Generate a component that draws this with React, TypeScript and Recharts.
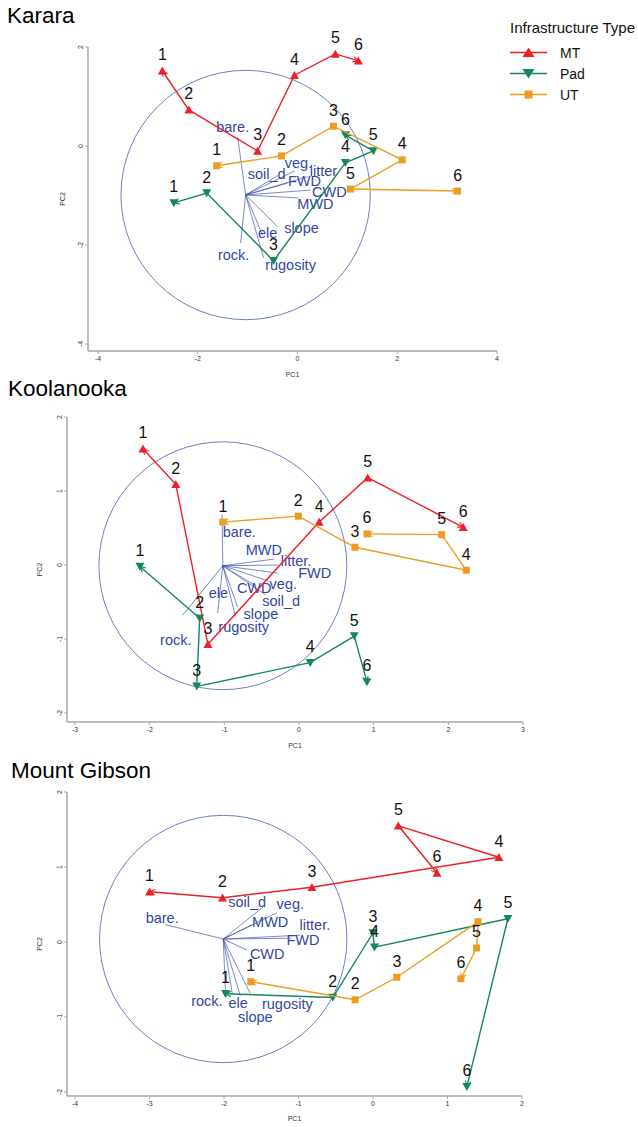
import React from 'react';
import { ScatterChart, Scatter, XAxis, YAxis, ReferenceLine, ReferenceDot, LabelList } from 'recharts';

const FONT = '"Liberation Sans", Arial, Helvetica, sans-serif';
const SERIES_COLORS: Record<string, string> = { MT: '#ee1f26', Pad: '#15865e', UT: '#ee9b1f' };
const SERIES_SHAPES: Record<string, string> = { MT: 'up', Pad: 'down', UT: 'square' };
const VECTOR_COLOR = '#3447a3';
const CIRCLE_COLOR = '#6b7fc6';
const AXIS_COLOR = '#a8a8a8';

const sampleLabels = ['1', '2', '3', '4', '5', '6'];
const seriesNames = ['MT', 'Pad', 'UT'];

// ---------- Karara ----------
const kararaMTx = [-2.71, -2.18, -0.8, -0.06, 0.76, 1.22];
const kararaMTy = [1.52, 0.73, -0.1, 1.43, 1.86, 1.72];
const kararaPadX = [-2.48, -1.82, -0.48, 0.96, 1.52, 0.96];
const kararaPadY = [-1.15, -0.95, -2.32, -0.34, -0.1, 0.22];
const kararaUTx = [-1.62, -0.32, 0.72, 2.1, 1.06, 3.21];
const kararaUTy = [-0.4, -0.2, 0.4, -0.28, -0.87, -0.91];
const kararaVarNames = ['bare.', 'soil_d', 'veg.', 'litter', 'FWD', 'CWD', 'MWD', 'slope', 'ele', 'rock.', 'rugosity'];
const kararaVecX = [-1.2, -0.4, -0.05, 0.2, -0.2, 0.26, 0.02, -0.4, -0.7, -1.14, -0.68];
const kararaVecY = [0.18, -0.6, -0.5, -0.62, -0.75, -0.89, -1.05, -1.63, -1.8, -1.96, -2.26];
const kararaLabX = [-1.3, -0.62, 0.02, 0.52, 0.14, 0.64, 0.36, 0.08, -0.6, -1.28, -0.14];
const kararaLabY = [0.38, -0.57, -0.34, -0.5, -0.7, -0.92, -1.17, -1.66, -1.76, -2.2, -2.4];
const kararaCentre = [-1.04, -0.99];
const kararaRadius = 2.5;
const kararaXTicks = [-4, -2, 0, 2, 4];
const kararaYTicks = [-4, -2, 0, 2];

// ---------- Koolanooka ----------
const koolMTx = [-2.09, -1.65, -1.22, 0.27, 0.92, 2.2];
const koolMTy = [1.57, 1.09, -1.07, 0.58, 1.18, 0.51];
const koolPadX = [-2.13, -1.33, -1.37, 0.15, 0.74, 0.91];
const koolPadY = [-0.02, -0.72, -1.64, -1.32, -0.96, -1.58];
const koolUTx = [-1.02, -0.01, 0.75, 2.24, 1.91, 0.91];
const koolUTy = [0.58, 0.66, 0.24, -0.07, 0.41, 0.42];
const koolVarNames = ['bare.', 'MWD', 'litter.', 'FWD', 'veg.', 'CWD', 'ele', 'soil_d', 'slope', 'rugosity', 'rock.'];
const koolVecX = [-1.03, -0.33, -0.27, -0.28, -0.4, -0.6, -1.09, -0.45, -0.82, -0.85, -1.56];
const koolVecY = [0.68, 0.08, 0.0, -0.11, -0.22, -0.27, -0.65, -0.4, -0.57, -0.7, -0.68];
const koolLabX = [-0.8, -0.47, -0.04, 0.21, -0.21, -0.6, -1.08, -0.24, -0.51, -0.74, -1.65];
const koolLabY = [0.45, 0.2, 0.05, -0.11, -0.26, -0.31, -0.38, -0.49, -0.66, -0.84, -1.01];
const koolCentre = [-1.02, -0.01];
const koolRadius = 1.66;
const koolXTicks = [-3, -2, -1, 0, 1, 2, 3];
const koolYTicks = [-2, -1, 0, 1, 2];

// ---------- Mount Gibson ----------
const mgMTx = [-3.0, -2.02, -0.82, 1.69, 0.34, 0.86];
const mgMTy = [0.67, 0.59, 0.73, 1.13, 1.55, 0.92];
const mgPadX = [-1.98, -0.54, 0.0, 0.02, 1.81, 1.26];
const mgPadY = [-0.69, -0.74, 0.12, -0.07, 0.31, -1.93];
const mgUTx = [-1.64, -0.24, 0.32, 1.41, 1.39, 1.18];
const mgUTy = [-0.53, -0.77, -0.47, 0.27, -0.08, -0.49];
const mgVarNames = ['soil_d', 'veg.', 'bare.', 'MWD', 'litter.', 'FWD', 'CWD', 'rock.', 'ele', 'rugosity', 'slope'];
const mgVecX = [-1.47, -1.29, -2.78, -1.62, -0.98, -1.1, -1.69, -1.98, -1.89, -1.65, -1.78];
const mgVecY = [0.47, 0.39, 0.23, 0.23, 0.09, 0.05, -0.11, -0.67, -0.68, -0.68, -0.72];
const mgLabX = [-1.69, -1.11, -2.83, -1.38, -0.78, -0.94, -1.42, -2.23, -1.81, -1.15, -1.58];
const mgLabY = [0.53, 0.51, 0.32, 0.27, 0.23, 0.03, -0.16, -0.79, -0.81, -0.83, -1.0];
const mgCentre = [-2.01, 0.04];
const mgRadius = 1.66;
const mgXTicks = [-4, -3, -2, -1, 0, 1, 2];
const mgYTicks = [-2, -1, 0, 1, 2];

const toPoints = (xs: number[], ys: number[]) => xs.map((x, i) => ({ x, y: ys[i], label: sampleLabels[i] }));
const toVectors = (names: string[], vx: number[], vy: number[], lx: number[], ly: number[]) =>
  names.map((name, i) => ({ name, ex: vx[i], ey: vy[i], x: lx[i], y: ly[i] }));

const panels = [
  {
    title: 'Karara', top: 0, width: 638, height: 385,
    margin: { top: 47, right: 141, bottom: 4, left: 58 }, yAxisWidth: 30, padLeft: 10, padBottom: 7, pcOffset: 4,
    xDomain: [-4, 4], yDomain: [-4, 2], xTicks: kararaXTicks, yTicks: kararaYTicks,
    centre: kararaCentre, radius: kararaRadius,
    vectors: toVectors(kararaVarNames, kararaVecX, kararaVecY, kararaLabX, kararaLabY),
    series: { MT: toPoints(kararaMTx, kararaMTy), Pad: toPoints(kararaPadX, kararaPadY), UT: toPoints(kararaUTx, kararaUTy) } as Record<string, any[]>,
  },
  {
    title: 'Koolanooka', top: 380, width: 638, height: 376,
    margin: { top: 37, right: 115, bottom: 4, left: 35 }, yAxisWidth: 32, padLeft: 8, padBottom: 9, pcOffset: 4,
    xDomain: [-3, 3], yDomain: [-2, 2], xTicks: koolXTicks, yTicks: koolYTicks,
    centre: koolCentre, radius: koolRadius,
    vectors: toVectors(koolVarNames, koolVecX, koolVecY, koolLabX, koolLabY),
    series: { MT: toPoints(koolMTx, koolMTy), Pad: toPoints(koolPadX, koolPadY), UT: toPoints(koolUTx, koolUTy) } as Record<string, any[]>,
  },
  {
    title: 'Mount Gibson', top: 755, width: 638, height: 372,
    margin: { top: 37, right: 116, bottom: 1, left: 35 }, yAxisWidth: 32, padLeft: 8, padBottom: 4, pcOffset: 5,
    xDomain: [-4, 2], yDomain: [-2, 2], xTicks: mgXTicks, yTicks: mgYTicks,
    centre: mgCentre, radius: mgRadius,
    vectors: toVectors(mgVarNames, mgVecX, mgVecY, mgLabX, mgLabY),
    series: { MT: toPoints(mgMTx, mgMTy), Pad: toPoints(mgPadX, mgPadY), UT: toPoints(mgUTx, mgUTy) } as Record<string, any[]>,
  },
];

const titleBaselines = [23, 396, 778];
const titleX = [7, 8, 11];

const markerPath = (kind: string, cx: number, cy: number, w: number, h: number, color: string) => {
  if (kind === 'up') return <path d={`M${cx},${cy - h / 2 - 0.5} L${cx + w / 2},${cy + h / 2} L${cx - w / 2},${cy + h / 2} Z`} fill={color} />;
  if (kind === 'down') return <path d={`M${cx},${cy + h / 2 + 0.5} L${cx + w / 2},${cy - h / 2} L${cx - w / 2},${cy - h / 2} Z`} fill={color} />;
  return <rect x={cx - w / 2} y={cy - w / 2} width={w} height={w} fill={color} />;
};

const makeShape = (name: string) => (props: any) => {
  const { cx, cy } = props;
  if (cx == null || cy == null) return <g />;
  return markerPath(SERIES_SHAPES[name], cx, cy, name === 'UT' ? 7 : 9, 7.5, SERIES_COLORS[name]);
};

const VectorText = (props: any) => {
  const { cx, cy, payload } = props;
  if (cx == null || cy == null) return <g />;
  return (
    <text x={cx} y={cy} textAnchor="middle" dominantBaseline="central" fontSize={14.5} fill={VECTOR_COLOR} fontFamily={FONT}>
      {payload && payload.name}
    </text>
  );
};

const YTick = (props: any) => {
  const { x, y, payload } = props;
  return (
    <text x={x} y={y} transform={`rotate(-90 ${x} ${y})`} textAnchor="middle" fontSize={7} fill="#333" fontFamily={FONT}>
      {payload.value}
    </text>
  );
};

function Panel({ p }: { p: any }) {
  const plotW = p.width - p.margin.left - p.margin.right - p.yAxisWidth - p.padLeft;
  const pxPerUnit = plotW / (p.xDomain[1] - p.xDomain[0]);
  const radiusPx = p.radius * pxPerUnit;
  return (
    <div style={{ position: 'absolute', left: 0, top: p.top }}>
      <ScatterChart width={p.width} height={p.height} margin={p.margin} style={{ fontFamily: FONT }}>
        <XAxis
          type="number" dataKey="x" domain={p.xDomain} ticks={p.xTicks} allowDataOverflow
          padding={{ left: p.padLeft, right: 0 }} height={30}
          tickSize={3} tickMargin={2}
          tick={{ fontSize: 7, fill: '#333', fontFamily: FONT }}
          axisLine={{ stroke: AXIS_COLOR, strokeWidth: 1.5 }} tickLine={{ stroke: AXIS_COLOR }}
          label={{ value: 'PC1', position: 'insideBottom', offset: p.pcOffset, fontSize: 7, fill: '#333' }}
        />
        <YAxis
          type="number" dataKey="y" domain={p.yDomain} ticks={p.yTicks} allowDataOverflow
          padding={{ top: 0, bottom: p.padBottom }} width={p.yAxisWidth}
          tickSize={3} tickMargin={2} tick={<YTick />}
          axisLine={{ stroke: AXIS_COLOR, strokeWidth: 1.5 }} tickLine={{ stroke: AXIS_COLOR }}
          label={{ value: 'PC2', angle: -90, position: 'insideLeft', offset: 5, fontSize: 7, fill: '#333', style: { textAnchor: 'middle' } }}
        />
        <ReferenceDot x={p.centre[0]} y={p.centre[1]} r={radiusPx} fill="none" stroke={CIRCLE_COLOR} strokeWidth={1} ifOverflow="visible" />
        {p.vectors.map((v: any) => (
          <ReferenceLine
            key={v.name}
            segment={[{ x: p.centre[0], y: p.centre[1] }, { x: v.ex, y: v.ey }]}
            stroke={VECTOR_COLOR} strokeWidth={0.8} strokeOpacity={0.8} ifOverflow="visible"
          />
        ))}
        <Scatter name="vectors" data={p.vectors} shape={VectorText} isAnimationActive={false} legendType="none" />
        {seriesNames.map((name) => (
          <Scatter
            key={name}
            name={name}
            data={p.series[name]}
            fill={SERIES_COLORS[name]}
            shape={makeShape(name)}
            line={{ stroke: SERIES_COLORS[name], strokeWidth: 1.4, fill: 'none', markerStart: `url(#arrow-${name})`, markerEnd: `url(#arrow-${name})` } as any}
            lineType="joint"
            isAnimationActive={false}
          >
            <LabelList dataKey="label" position="top" offset={6} fontSize={16} fill="#111" fontFamily={FONT} />
          </Scatter>
        ))}
      </ScatterChart>
    </div>
  );
}

const legendRows = [
  { name: 'MT', y: 52.5 },
  { name: 'Pad', y: 73.5 },
  { name: 'UT', y: 94.5 },
];

export default function App() {
  return (
    <div style={{ position: 'absolute', left: 0, top: 0, width: 638, height: 1127, background: '#fff', fontFamily: FONT, overflow: 'hidden' }}>
      {panels.map((p) => (
        <Panel key={p.title} p={p} />
      ))}
      <svg width={638} height={1127} style={{ position: 'absolute', left: 0, top: 0, pointerEvents: 'none' }}>
        <defs>
          {seriesNames.map((name) => (
            <marker
              key={name}
              id={`arrow-${name}`}
              viewBox="0 0 10 10" refX={9} refY={5}
              markerWidth={7} markerHeight={7} markerUnits="userSpaceOnUse"
              orient="auto-start-reverse"
            >
              <path d="M1,1 L9,5 L1,9" fill="none" stroke={SERIES_COLORS[name]} strokeWidth={1.6} />
            </marker>
          ))}
        </defs>
        {panels.map((p, i) => (
          <text key={p.title} x={titleX[i]} y={titleBaselines[i]} fontSize={22.5} fill="#000" fontFamily={FONT}>
            {p.title}
          </text>
        ))}
        <text x={510} y={33} fontSize={14.5} fill="#111" fontFamily={FONT} textLength={125} lengthAdjust="spacingAndGlyphs">Infrastructure Type</text>
        {legendRows.map((r) => (
          <g key={r.name}>
            <line x1={510} x2={547} y1={r.y} y2={r.y} stroke={SERIES_COLORS[r.name]} strokeWidth={1.5} />
            {markerPath(SERIES_SHAPES[r.name], 528.5, r.y, r.name === 'UT' ? 8 : 12, 9, SERIES_COLORS[r.name])}
            <text x={560} y={r.y + 5} fontSize={14} fill="#111" fontFamily={FONT}>{r.name}</text>
          </g>
        ))}
      </svg>
    </div>
  );
}
